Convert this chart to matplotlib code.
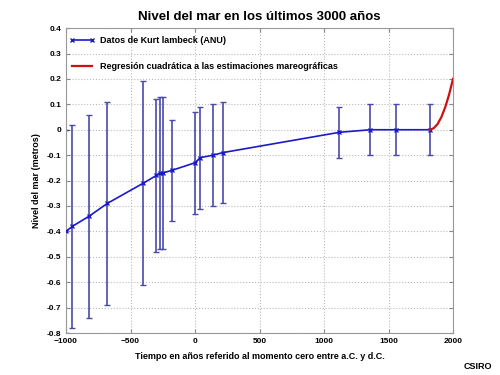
import matplotlib
matplotlib.use("Agg")
import matplotlib.pyplot as plt

years = [-1000, -950, -820, -680, -400, -300, -270, -250, -180, 0, 40, 140, 215, 1120, 1360, 1560, 1820]
level = [-0.40, -0.38, -0.34, -0.29, -0.21, -0.18, -0.17, -0.17, -0.16, -0.13, -0.11, -0.10, -0.09, -0.01, 0.0, 0.0, 0.0]
upper = [0.00, 0.02, 0.06, 0.11, 0.19, 0.12, 0.13, 0.13, 0.04, 0.07, 0.09, 0.10, 0.11, 0.09, 0.10, 0.10, 0.10]
lower = [-0.80, -0.78, -0.74, -0.69, -0.61, -0.48, -0.47, -0.47, -0.36, -0.33, -0.31, -0.30, -0.29, -0.11, -0.10, -0.10, -0.10]

reg_years = [1820, 1850, 1880, 1910, 1940, 1970, 2000]
reg_level = [0.0, 0.006, 0.022, 0.05, 0.089, 0.139, 0.2]

plt.rcParams['font.family'] = ['Liberation Sans', 'DejaVu Sans']
plt.rcParams['font.weight'] = 'bold'

fig = plt.figure(figsize=(5, 3.75), dpi=100)
ax = fig.add_axes([0.132, 0.112, 0.774, 0.813])

yerr = [[l - lo for l, lo in zip(level, lower)], [u - l for l, u in zip(level, upper)]]
ax.errorbar(years, level, yerr=yerr, fmt='none', ecolor='#4a4aa8', elinewidth=1.2,
            capsize=2.5, capthick=1.0, zorder=2)
ax.plot(years, level, color='#1a1acc', marker='x', markersize=3, markeredgewidth=1.0, linewidth=1.2,
        label='Datos de Kurt lambeck (ANU)', zorder=3)
ax.plot(reg_years, reg_level, color='#cc1111', linewidth=1.6,
        label='Regresión cuadrática a las estimaciones mareográficas', zorder=4)

ax.set_xlim(-1000, 2000)
ax.set_ylim(-0.8, 0.4)
ax.set_xticks([-1000, -500, 0, 500, 1000, 1500, 2000])
ax.set_yticks([-0.8, -0.7, -0.6, -0.5, -0.4, -0.3, -0.2, -0.1, 0, 0.1, 0.2, 0.3, 0.4])
ax.set_yticklabels(['-0.8', '-0.7', '-0.6', '-0.5', '-0.4', '-0.3', '-0.2', '-0.1', '0', '0.1', '0.2', '0.3', '0.4'])
ax.tick_params(labelsize=6, direction='in', length=3, colors='#888888', labelcolor='black', top=True, right=True)
ax.grid(True, linestyle=':', color='#bbbbbb', linewidth=0.8)
for s in ax.spines.values():
    s.set_color('#999999')

ax.set_title('Nivel del mar en los últimos 3000 años', fontsize=9.5, fontweight='bold', pad=6)
ax.set_xlabel('Tiempo en años referido al momento cero entre a.C. y d.C.', fontsize=6.5, fontweight='bold', labelpad=5)
ax.set_ylabel('Nivel del mar (metros)', fontsize=6.5, fontweight='bold')

leg = ax.legend(loc='upper left', bbox_to_anchor=(-0.012, 1.0), frameon=False, fontsize=6.5,
                labelspacing=1.9, numpoints=2, handlelength=2.8, borderaxespad=0.6,
                handletextpad=0.6, borderpad=0.3)

fig.text(0.985, 0.01, 'CSIRO', ha='right', va='bottom', fontsize=6.5, fontweight='bold')

fig.savefig('out.png', dpi=100, facecolor='white')
